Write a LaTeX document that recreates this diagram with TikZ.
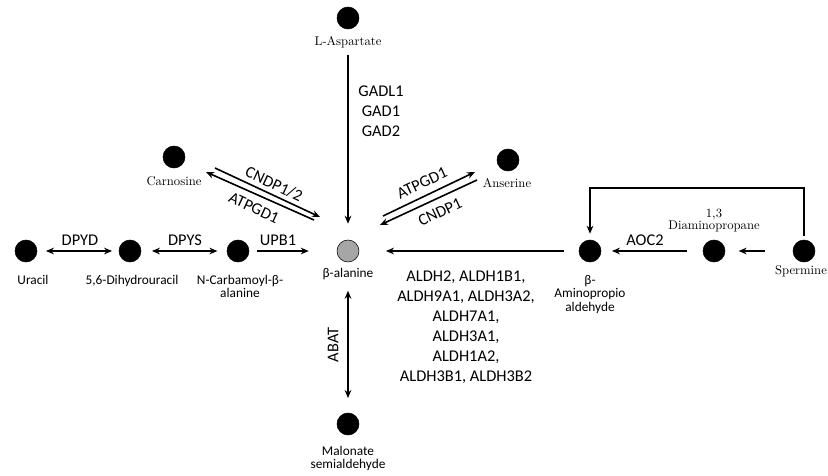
\documentclass[tikz,border=0pt]{standalone}
\usepackage{fontspec}
\usetikzlibrary{arrows.meta}
\newfontfamily\calibri{Carlito}

\begin{document}
\begin{tikzpicture}[x=0.75pt,y=0.75pt,yscale=-1,xscale=1,
    met/.style={circle,draw,fill=black,minimum size=16.5pt,inner sep=0pt},
    cmp/.style={font=\calibri\fontsize{10}{10}\selectfont,align=center,inner sep=0pt,anchor=north},
    srf/.style={font=\fontsize{9.5}{9.2}\selectfont,align=center,inner sep=0pt,anchor=north},
    enz/.style={font=\calibri\fontsize{12.3}{15}\selectfont,align=center,inner sep=0pt},
    rx/.style={line width=1.2pt,-{Stealth[length=6pt,width=5pt]}},
    rxx/.style={line width=1.2pt,{Stealth[length=6pt,width=5pt]}-{Stealth[length=6pt,width=5pt]}}]
\useasboundingbox (0,0) rectangle (828,475);
\node[met] (asp) at (348,18) {};
\node[met,fill={rgb, 255:red, 166; green, 166; blue, 166}] (bala) at (348,251) {};
\node[met] (carn) at (174,157) {};
\node[met] (ans) at (508,160) {};
\node[met] (ura) at (26,251) {};
\node[met] (dhu) at (130,251) {};
\node[met] (ncb) at (238,251) {};
\node[met] (bapa) at (590,251) {};
\node[met] (dap) at (714,251) {};
\node[met] (spm) at (804,251) {};
\node[met] (mal) at (348,424) {};
\node[srf] (aspl) at (348,36) {L-Aspartate};
\node[cmp] (balal) at (348,268) {β-alanine};
\node[srf] (carnl) at (174,176) {Carnosine};
\node[srf] (ansl) at (507,178) {Anserine};
\node[cmp] (ural) at (33,275) {Uracil};
\node[cmp] (dhul) at (132,275) {5,6-Dihydrouracil};
\node[cmp] (ncbl) at (240,275) {N-Carbamoyl-β-\\alanine};
\node[cmp] (bapal) at (590,275) {β-\\Aminopropio\\aldehyde};
\node[srf] (dapl) at (714,209) {1,3\\Diaminopropane};
\node[srf] (spml) at (801,265) {Spermine};
\node[cmp] (mall) at (348,446) {Malonate\\semialdehyde};
\node[enz] (gad) at (381,111) {GADL1\\GAD1\\GAD2};
\node[enz] (aldh) at (466,327) {ALDH2, ALDH1B1,\\ALDH9A1, ALDH3A2,\\ALDH7A1,\\ALDH3A1,\\ALDH1A2,\\ALDH3B1, ALDH3B2};
\node[enz] (dpyd) at (80,240) {DPYD};
\node[enz] (dpys) at (185,240) {DPYS};
\node[enz] (upb) at (278,240) {UPB1};
\node[enz] (aoc) at (645,240) {AOC2};
\node[enz,rotate=90] (abat) at (333,345) {ABAT};
\node[enz,rotate=-25] (cndpa) at (274,184) {CNDP1/2};
\node[enz,rotate=-25] (atpa) at (254,208) {ATPGD1};
\node[enz,rotate=25] (atpb) at (422,183) {ATPGD1};
\node[enz,rotate=25] (cndpb) at (440,212) {CNDP1};
\coordinate (loop) at (700,188);
\draw[rx, shorten <=5pt, shorten >=12pt] (aspl) -- (bala);
\draw[rxx, shorten <=6.5pt, shorten >=5pt] (ura) -- (dhu);
\draw[rxx, shorten <=8pt, shorten >=7pt] (dhu) -- (ncb);
\draw[rx, shorten <=6pt, shorten >=21pt] (ncb) -- (bala);
\draw[rx, shorten <=11pt, shorten >=20pt] (bapa) -- (bala);
\draw[rx, shorten <=12pt, shorten >=8pt] (dap) -- (bapa);
\draw[rx, shorten <=21pt, shorten >=10pt] (spm) -- (dap);
\draw[rxx, shorten <=8pt, shorten >=11pt] (balal) -- (mal);
\draw[rx, shorten <=3pt, shorten >=4.5pt] (spm.north) |- (loop) -| (bapa.north);
\draw[rx] ([shift={(41,11)}]carn.center) -- ([shift={(-28,-34)}]bala.center);
\draw[rx] ([shift={(-34,-31)}]bala.center) -- ([shift={(32,15)}]carn.center);
\draw[rx] ([shift={(35,-35)}]bala.center) -- ([shift={(-33,12)}]ans.center);
\draw[rx] ([shift={(-31,20)}]ans.center) -- ([shift={(32,-26)}]bala.center);
\end{tikzpicture}
\end{document}
